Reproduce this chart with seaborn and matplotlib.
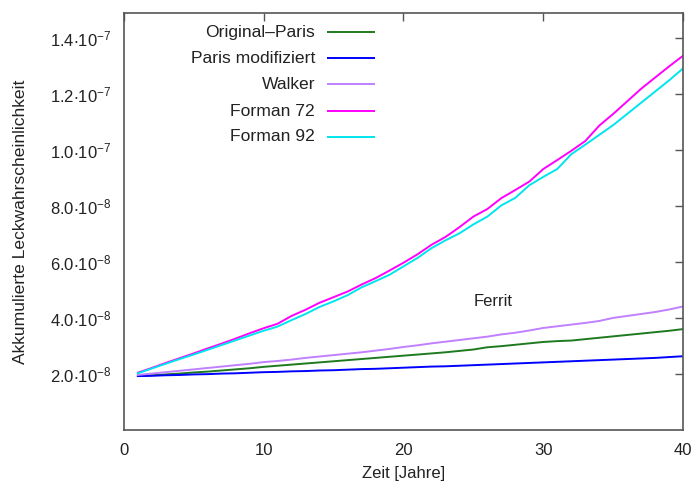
import numpy as np
import pandas as pd
import matplotlib
matplotlib.use("Agg")
import matplotlib.pyplot as plt
import seaborn as sns
from matplotlib.ticker import FixedLocator, FixedFormatter

years = list(range(1, 41))
original_paris = [1.93, 1.96, 1.99, 2.02, 2.06, 2.09, 2.13, 2.17, 2.21, 2.26,
                  2.30, 2.34, 2.38, 2.42, 2.46, 2.50, 2.54, 2.58, 2.62, 2.66,
                  2.70, 2.74, 2.78, 2.83, 2.88, 2.96, 3.00, 3.05, 3.10, 3.15,
                  3.18, 3.20, 3.25, 3.30, 3.35, 3.40, 3.45, 3.50, 3.55, 3.61]
paris_mod = [1.93, 1.94, 1.96, 1.97, 1.99, 2.00, 2.02, 2.03, 2.05, 2.07,
             2.08, 2.10, 2.11, 2.13, 2.14, 2.16, 2.18, 2.19, 2.21, 2.23,
             2.25, 2.27, 2.28, 2.30, 2.32, 2.34, 2.36, 2.38, 2.40, 2.42,
             2.44, 2.46, 2.48, 2.50, 2.52, 2.54, 2.56, 2.58, 2.61, 2.64]
walker = [1.97, 2.02, 2.07, 2.12, 2.17, 2.22, 2.27, 2.32, 2.37, 2.43,
          2.47, 2.52, 2.58, 2.63, 2.68, 2.73, 2.78, 2.84, 2.90, 2.97,
          3.03, 3.10, 3.16, 3.22, 3.28, 3.34, 3.42, 3.48, 3.56, 3.65,
          3.71, 3.77, 3.83, 3.90, 4.01, 4.08, 4.15, 4.22, 4.31, 4.42]
forman72 = [2.05, 2.22, 2.40, 2.57, 2.74, 2.92, 3.09, 3.27, 3.46, 3.64,
            3.80, 4.08, 4.30, 4.55, 4.75, 4.95, 5.20, 5.43, 5.70, 5.98,
            6.28, 6.62, 6.90, 7.25, 7.63, 7.90, 8.29, 8.58, 8.88, 9.33,
            9.65, 9.98, 10.33, 10.88, 11.30, 11.75, 12.20, 12.60, 13.00, 13.38]
forman92 = [2.03, 2.20, 2.37, 2.54, 2.70, 2.87, 3.04, 3.21, 3.38, 3.55,
            3.70, 3.93, 4.15, 4.40, 4.60, 4.82, 5.10, 5.32, 5.55, 5.85,
            6.15, 6.50, 6.78, 7.03, 7.35, 7.63, 8.03, 8.30, 8.75, 9.05,
            9.33, 9.86, 10.20, 10.55, 10.90, 11.30, 11.70, 12.10, 12.50, 12.93]
scale = 1e-8

series_names = ["Original\u2013Paris", "Paris modifiziert", "Walker", "Forman 72", "Forman 92"]
series_colors = ["#1f7a1f", "#0000ff", "#c080ff", "#ff00ff", "#00e5ee"]

x_ticks = [0, 10, 20, 30, 40]
y_ticks = [2.0e-8, 4.0e-8, 6.0e-8, 8.0e-8, 1.0e-7, 1.2e-7, 1.4e-7]
y_tick_labels = [r"$2.0{\cdot}10^{-8}$", r"$4.0{\cdot}10^{-8}$", r"$6.0{\cdot}10^{-8}$",
                 r"$8.0{\cdot}10^{-8}$", r"$1.0{\cdot}10^{-7}$", r"$1.2{\cdot}10^{-7}$",
                 r"$1.4{\cdot}10^{-7}$"]

frames = []
for name, vals in zip(series_names, [original_paris, paris_mod, walker, forman72, forman92]):
    frames.append(pd.DataFrame({"Jahr": years, "P": np.array(vals) * scale, "Serie": name}))
df = pd.concat(frames, ignore_index=True)

sns.set_style("white")
plt.rcParams["font.family"] = ["Liberation Sans", "DejaVu Sans"]
plt.rcParams["mathtext.fontset"] = "custom"
plt.rcParams["mathtext.rm"] = "Liberation Sans"
plt.rcParams["mathtext.it"] = "Liberation Sans:italic"
plt.rcParams["mathtext.bf"] = "Liberation Sans:bold"
plt.rcParams["mathtext.default"] = "regular"

fig = plt.figure(figsize=(6.95, 4.86), dpi=100)
ax = fig.add_axes([0.178, 0.115, 0.805, 0.858])

sns.lineplot(data=df, x="Jahr", y="P", hue="Serie", hue_order=series_names,
             palette=dict(zip(series_names, series_colors)), linewidth=1.4, ax=ax,
             legend=False)

ax.set_xlim(0, 40)
ax.set_ylim(0, 1.49e-7)
ax.xaxis.set_major_locator(FixedLocator(x_ticks))
ax.yaxis.set_major_locator(FixedLocator(y_ticks))
ax.yaxis.set_major_formatter(FixedFormatter(y_tick_labels))
ax.tick_params(direction="in", length=6, width=1, color="#555555",
               top=True, right=True, labelsize=12, pad=9, labelcolor="#222222")
for sp in ax.spines.values():
    sp.set_color("#555555")
    sp.set_linewidth(1.2)

ax.set_xlabel("Zeit [Jahre]", fontsize=12, color="#222222", labelpad=6)
ax.set_ylabel("Akkumulierte Leckwahrscheinlichkeit", fontsize=12.6, color="#222222", labelpad=16)

ax.text(26.4, 4.6e-8, "Ferrit", fontsize=12, ha="center", va="center", color="#222222")

# gnuplot-style key: right-aligned labels with the line sample to their right
key_rows = [0.954, 0.892, 0.830, 0.765, 0.703]
for name, color, yk in zip(series_names, series_colors, key_rows):
    ax.text(0.342, yk, name, transform=ax.transAxes, ha="right", va="center",
            fontsize=12.6, color="#222222")
    ax.plot([0.363, 0.449], [yk, yk], transform=ax.transAxes, color=color,
            linewidth=1.4, solid_capstyle="butt")

fig.savefig("out.png", dpi=100)
